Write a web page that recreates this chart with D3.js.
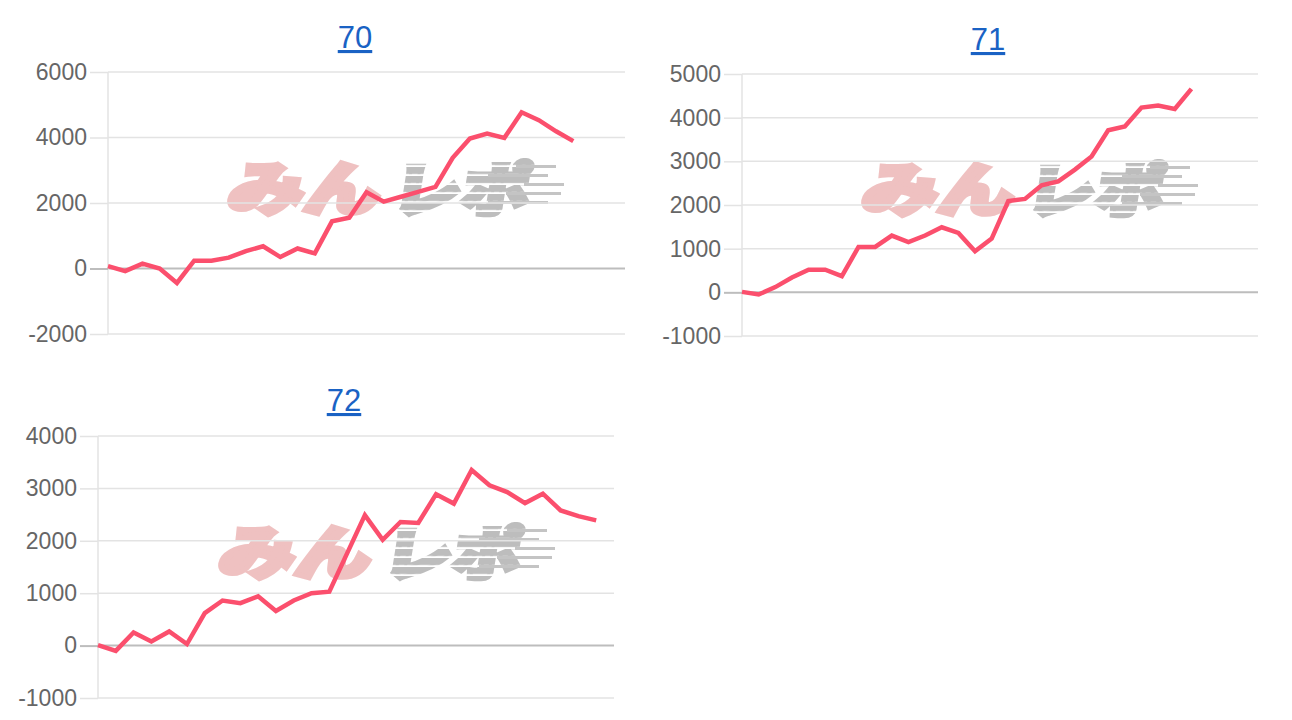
<!DOCTYPE html>
<html>
<head>
<meta charset="utf-8">
<script src="https://cdn.jsdelivr.net/npm/d3@7"></script>
<style>
  html, body { margin: 0; padding: 0; background: #fff; }
  svg text.tick-label { font-family: "Liberation Sans", Helvetica, Arial, sans-serif; font-size: 23px; fill: #666; }
  svg text.title { font-family: "Liberation Sans", Helvetica, Arial, sans-serif; font-size: 31px; fill: #1a62c4; text-decoration: underline; text-anchor: middle; }
  svg text.wm { font-family: "Noto Sans CJK JP", sans-serif; font-weight: 900; font-size: 58px; }
</style>
</head>
<body>
<svg id="chart" width="1292" height="720"></svg>
<script>
// machine numbers
const titles = ["70", "71", "72"];

// x categories per chart (no tick labels are shown)
const labels70 = ["1","2","3","4","5","6","7","8","9","10","11","12","13","14","15","16","17","18","19","20","21","22","23","24","25","26","27","28","29","30","31"];
const labels71 = ["1","2","3","4","5","6","7","8","9","10","11","12","13","14","15","16","17","18","19","20","21","22","23","24","25","26","27","28","29","30","31","32"];
const labels72 = ["1","2","3","4","5","6","7","8","9","10","11","12","13","14","15","16","17","18","19","20","21","22","23","24","25","26","27","28","29","30"];

// series values
const values70 = [70, -80, 150, 0, -440, 240, 240, 330, 530, 680, 350, 610, 460, 1440, 1550, 2330, 2040, 2190, 2340, 2490, 3380, 3970, 4120, 3990, 4770, 4530, 4190, 3890];
const values71 = [10, -50, 120, 340, 520, 520, 370, 1040, 1040, 1300, 1150, 1300, 1490, 1360, 940, 1230, 2090, 2140, 2450, 2540, 2810, 3110, 3710, 3800, 4230, 4280, 4200, 4660];
const values72 = [10, -100, 250, 80, 270, 30, 620, 860, 810, 940, 660, 860, 1000, 1030, 1760, 2490, 2020, 2360, 2340, 2890, 2710, 3350, 3060, 2930, 2720, 2900, 2580, 2470, 2390];

// y tick values
const ticks70 = [-2000, 0, 2000, 4000, 6000];
const ticks71 = [-1000, 0, 1000, 2000, 3000, 4000, 5000];
const ticks72 = [-1000, 0, 1000, 2000, 3000, 4000];

const panels = [
  { title: titles[0], labels: labels70, values: values70, ticks: ticks70,
    left: 108, right: 625, top: 72, bottom: 334, tx: 355, ty: 48, wx: 388, wy: 185 },
  { title: titles[1], labels: labels71, values: values71, ticks: ticks71,
    left: 742, right: 1258, top: 74, bottom: 336, tx: 988, ty: 50, wx: 1022, wy: 186 },
  { title: titles[2], labels: labels72, values: values72, ticks: ticks72,
    left: 98, right: 614, top: 436, bottom: 698, tx: 344, ty: 411, wx: 379, wy: 549 }
];

const svg = d3.select("#chart");
const defs = svg.append("defs");

// striped fill for the grey half of the logo
const pat = defs.append("pattern")
  .attr("id", "stripes")
  .attr("patternUnits", "userSpaceOnUse")
  .attr("width", 10)
  .attr("height", 9);
pat.append("rect").attr("width", 10).attr("height", 7).attr("fill", "#bdbdbd");

function watermark(g, cx, cy) {
  const w = g.append("g").attr("transform", "translate(" + cx + "," + cy + ")");
  w.append("text")
    .attr("class", "wm")
    .attr("x", -158)
    .attr("y", 25)
    .attr("textLength", 152)
    .attr("lengthAdjust", "spacingAndGlyphs")
    .attr("transform", "skewX(-9)")
    .attr("fill", "#efc1c1")
    .attr("stroke", "#efc1c1")
    .attr("stroke-width", 5)
    .attr("stroke-linejoin", "miter")
    .text("みん");
  w.append("text")
    .attr("class", "wm")
    .attr("x", 6)
    .attr("y", 26)
    .attr("textLength", 138)
    .attr("lengthAdjust", "spacingAndGlyphs")
    .attr("transform", "skewX(-9)")
    .attr("fill", "url(#stripes)")
    .attr("stroke", "url(#stripes)")
    .attr("stroke-width", 5)
    .text("レポ");
  // speed lines
  const bars = [[-20, 128, 40], [-11, 100, 60], [-2, 136, 40], [7, 118, 55], [16, 100, 60]];
  w.selectAll("rect.sp").data(bars).enter().append("rect")
    .attr("class", "sp")
    .attr("x", d => d[1])
    .attr("y", d => d[0])
    .attr("width", d => d[2])
    .attr("height", 3)
    .attr("fill", "#c4c4c4");
}

panels.forEach(p => {
  const g = svg.append("g");

  const x = d3.scalePoint()
    .domain(p.labels)
    .range([p.left, p.right])
    .padding(0);

  const y = d3.scaleLinear()
    .domain(d3.extent(p.ticks))
    .range([p.bottom, p.top]);

  watermark(g, p.wx, p.wy);

  // horizontal grid
  g.selectAll("line.grid").data(p.ticks).enter().append("line")
    .attr("class", "grid")
    .attr("x1", p.left)
    .attr("x2", p.right)
    .attr("y1", d => y(d))
    .attr("y2", d => y(d))
    .attr("stroke", d => d === 0 ? "#bdbdbd" : "#e3e3e3")
    .attr("stroke-width", d => d === 0 ? 2 : 1.5);

  // vertical axis line
  g.append("line")
    .attr("x1", p.left).attr("x2", p.left)
    .attr("y1", p.top).attr("y2", p.bottom)
    .attr("stroke", "#e3e3e3")
    .attr("stroke-width", 1.5);

  const axis = g.append("g")
    .attr("transform", "translate(" + p.left + ",0)")
    .call(d3.axisLeft(y).tickValues(p.ticks).tickSize(18).tickPadding(3).tickFormat(d => String(d)));
  axis.select(".domain").remove();
  axis.selectAll(".tick line")
    .attr("stroke", d => d === 0 ? "#bdbdbd" : "#e3e3e3")
    .attr("stroke-width", d => d === 0 ? 2 : 1.5);
  axis.selectAll(".tick text")
    .attr("class", "tick-label")
    .attr("fill", null)
    .attr("font-size", null)
    .attr("font-family", null);
  axis.attr("font-size", null).attr("font-family", null);

  const line = d3.line()
    .x((d, i) => x(p.labels[i]))
    .y(d => y(d));

  g.append("path")
    .datum(p.values)
    .attr("d", line)
    .attr("fill", "none")
    .attr("stroke", "#fb4f6d")
    .attr("stroke-width", 4.5)
    .attr("stroke-linejoin", "miter");

  g.append("text")
    .attr("class", "title")
    .attr("x", p.tx)
    .attr("y", p.ty)
    .text(p.title);
});
</script>
</body>
</html>
